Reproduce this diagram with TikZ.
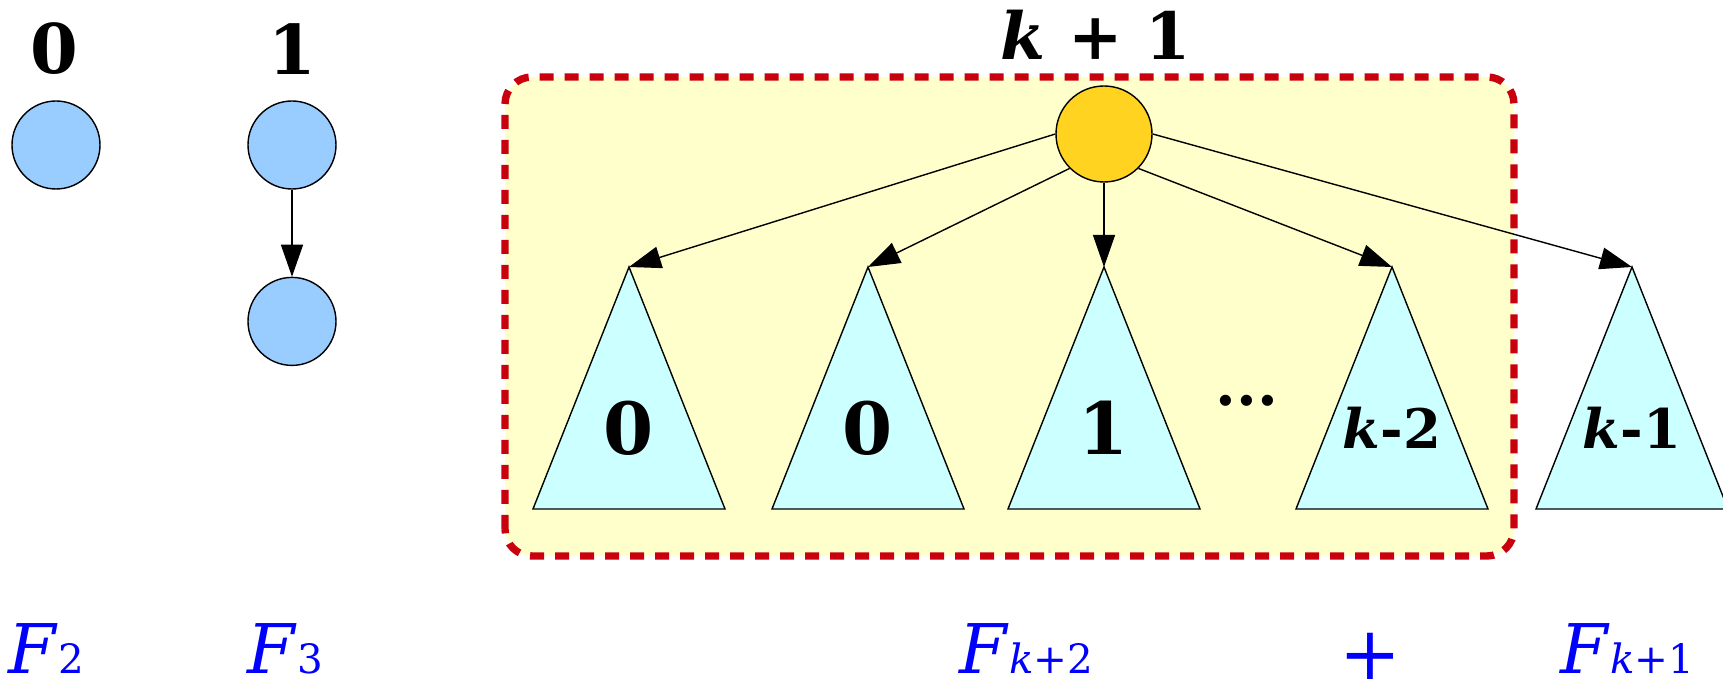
\documentclass[tikz,border=0pt]{standalone}
\usepackage{fontspec}
\setmainfont{DejaVu Serif}
\usetikzlibrary{arrows.meta,positioning}

\definecolor{nodeblue}{HTML}{99CCFF}
\definecolor{rootgold}{HTML}{FFD320}
\definecolor{treecyan}{HTML}{CCFFFF}
\definecolor{boxyellow}{HTML}{FFFFCC}
\definecolor{boxred}{HTML}{C9000E}

\newcommand{\fsub}[1]{{\fontsize{11.5}{12}\selectfont #1}}

\begin{document}
\begin{tikzpicture}[
    every node/.style={inner sep=0pt},
    smallnode/.style={draw, circle, fill=nodeblue, minimum size=8.8mm, line width=0.4pt},
    rootnode/.style={draw, circle, fill=rootgold, minimum size=9.6mm, line width=0.4pt},
    arr/.style={-{Triangle[length=3.2mm,width=2.2mm]}, line width=0.4pt},
    subtree/.style={draw, fill=treecyan, line width=0.4pt},
    ordtop/.style={font=\bfseries\fontsize{19.5}{21}\selectfont},
    ordbig/.style={font=\bfseries\fontsize{20.5}{22}\selectfont},
    ordk/.style={font=\bfseries\fontsize{15.5}{17}\selectfont},
    fib/.style={text=blue, font=\fontsize{19.5}{21}\selectfont, anchor=base west}
]
    \useasboundingbox (0,0) rectangle (17.23,6.81);

    % the frame round B_{k+1}
    \fill[boxyellow, rounded corners=0.27cm] (5.05,1.25) rectangle (15.14,6.04);

    % B_0 and B_1
    \node (c0) [smallnode] at (0.56,5.36) {};
    \node (l0) [ordtop, above=0.25cm of c0, xshift=-0.02cm] {0};

    \node (c1) [smallnode] at (2.92,5.36) {};
    \node (c1b) [smallnode, below=0.87cm of c1] {};
    \node (l1) [ordtop, above=0.25cm of c1] {1};
    \draw[arr] (c1) -- (c1b);

    % B_{k+1}
    \node (root) [rootnode] at (11.04,5.47) {};
    \node (lroot) [font=\bfseries\fontsize{18.5}{20}\selectfont, above=0.25cm of root, xshift=-0.08cm] {\textit{k} + 1};

    \coordinate (t1) at (6.29,4.14);
    \coordinate (t2) at (8.68,4.14);
    \coordinate (t3) at (11.04,4.14);
    \coordinate (t4) at (13.92,4.14);
    \coordinate (t5) at (16.32,4.14);

    \draw[subtree] (t1) -- ++(-0.96,-2.42) -- ++(1.92,0) -- cycle;
    \draw[subtree] (t2) -- ++(-0.96,-2.42) -- ++(1.92,0) -- cycle;
    \draw[subtree] (t3) -- ++(-0.96,-2.42) -- ++(1.92,0) -- cycle;
    \draw[subtree] (t4) -- ++(-0.96,-2.42) -- ++(1.92,0) -- cycle;
    \draw[subtree] (t5) -- ++(-0.96,-2.42) -- ++(1.92,0) -- cycle;

    \node (n1) [ordbig] at (6.29,2.53) {0};
    \node (n2) [ordbig] at (8.68,2.53) {0};
    \node (n3) [ordbig] at (11.04,2.53) {1};
    \node (dots) [font=\bfseries\fontsize{17}{18}\selectfont] at (12.47,2.80) {...};
    \node (n4) [ordk] at (13.92,2.53) {\textit{k}-2};
    \node (n5) [ordk] at (16.32,2.53) {\textit{k}-1};

    \draw[arr] (root.west) -- (t1);
    \draw[arr] (root.south west) -- (t2);
    \draw[arr] (root.south) -- (t3);
    \draw[arr] (root.south east) -- (t4);
    \draw[arr] (root.east) -- (t5);

    \draw[boxred, line width=2.1pt, dash pattern=on 0.14cm off 0.11cm, rounded corners=0.27cm] (5.05,1.25) rectangle (15.14,6.04);

    % Fibonacci sizes
    \node (f2) [fib] at (0.08,0.08) {\textit{F}\fsub{2}};
    \node (f3) [fib] at (2.47,0.08) {\textit{F}\fsub{3}};
    \node (fk2) [fib] at (9.59,0.08) {\textit{F}\fsub{\textit{k}+2}};
    \node (plus) [text=blue, font=\fontsize{21}{22}\selectfont] at (13.70,0.25) {+};
    \node (fk1) [fib] at (15.60,0.08) {\textit{F}\fsub{\textit{k}+1}};
\end{tikzpicture}
\end{document}
